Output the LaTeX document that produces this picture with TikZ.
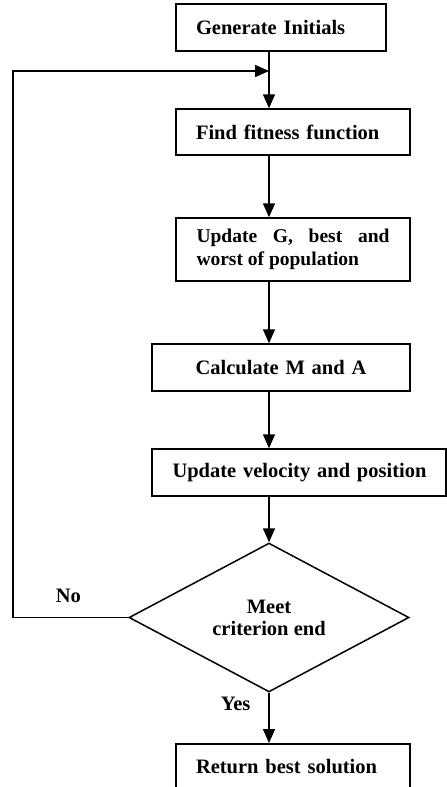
\documentclass[tikz,border=0pt]{standalone}
\usepackage{fontspec}
\setmainfont{Liberation Serif}
\usetikzlibrary{arrows.meta,shapes.geometric}
\begin{document}
\begin{tikzpicture}[x=1pt,y=-1pt, line width=1.5pt,
  font=\bfseries\fontsize{20.5}{23}\selectfont,
  procbox/.style={draw, rectangle, line width=1.5pt, inner ysep=2pt},
  arr/.style={-{Triangle[length=14pt,width=12pt]}, line width=1.5pt},
  lbl/.style={inner sep=0pt, anchor=base west}]
\clip (0,0) rectangle (447,787);
\fill[white] (0,0) rectangle (447,787);
% boxes
\node[procbox, minimum width=210pt, minimum height=47pt, text width=170pt, inner xsep=20pt, align=left] (b1) at (281,27.5) {Generate Initials};
\node[procbox, minimum width=234pt, minimum height=46pt, text width=194pt, inner xsep=20pt, align=left] (b2) at (293,132) {Find fitness function};
\node[procbox, minimum width=234pt, minimum height=63pt, text width=193pt, inner xsep=20.5pt, align=justify, font=\bfseries\fontsize{19.5}{23}\selectfont] (b3) at (293,249.5) {Update G, best and worst of population};
\node[procbox, minimum width=258pt, minimum height=47pt, text width=218pt, inner xsep=20pt, align=center] (b4) at (281,367.5) {Calculate M and A};
\node[procbox, minimum width=294pt, minimum height=47pt, text width=253pt, inner xsep=20.5pt, align=left] (b5) at (299,472.5) {\mbox{Update velocity and position}};
\node[draw, diamond, minimum width=280pt, minimum height=125pt, inner sep=0pt, align=center, line width=1.5pt] (dm) at (269,617.5) {Meet\\[-1pt]criterion end};
\node[draw, rectangle, line width=1.5pt, anchor=north, minimum width=234pt, text width=194pt, inner xsep=20pt, align=left, text height=14pt, text depth=5pt, inner ysep=16pt] (b6) at (293,743) {Return best solution};
% coordinates
\coordinate (mrg) at (269,71);
\coordinate (lp) at (13,617.5);
% connectors
\draw (b1.south -| dm.north) -- (mrg);
\draw[arr] (mrg) -- (b2.north -| dm.north);
\draw[arr] (b2.south -| dm.north) -- (b3.north -| dm.north);
\draw[arr] (b3.south -| dm.north) -- (b4.north -| dm.north);
\draw[arr] (b4.south -| dm.north) -- (b5.north -| dm.north);
\draw[arr] (b5.south -| dm.north) -- (dm.north);
\draw[arr] (dm.south) -- (b6.north -| dm.south);
\draw[arr] (dm.west) -- (lp) |- (mrg);
% labels
\node[lbl] (no) at (55,602) {No};
\node[lbl] (yes) at (220,710) {Yes};
\end{tikzpicture}
\end{document}
